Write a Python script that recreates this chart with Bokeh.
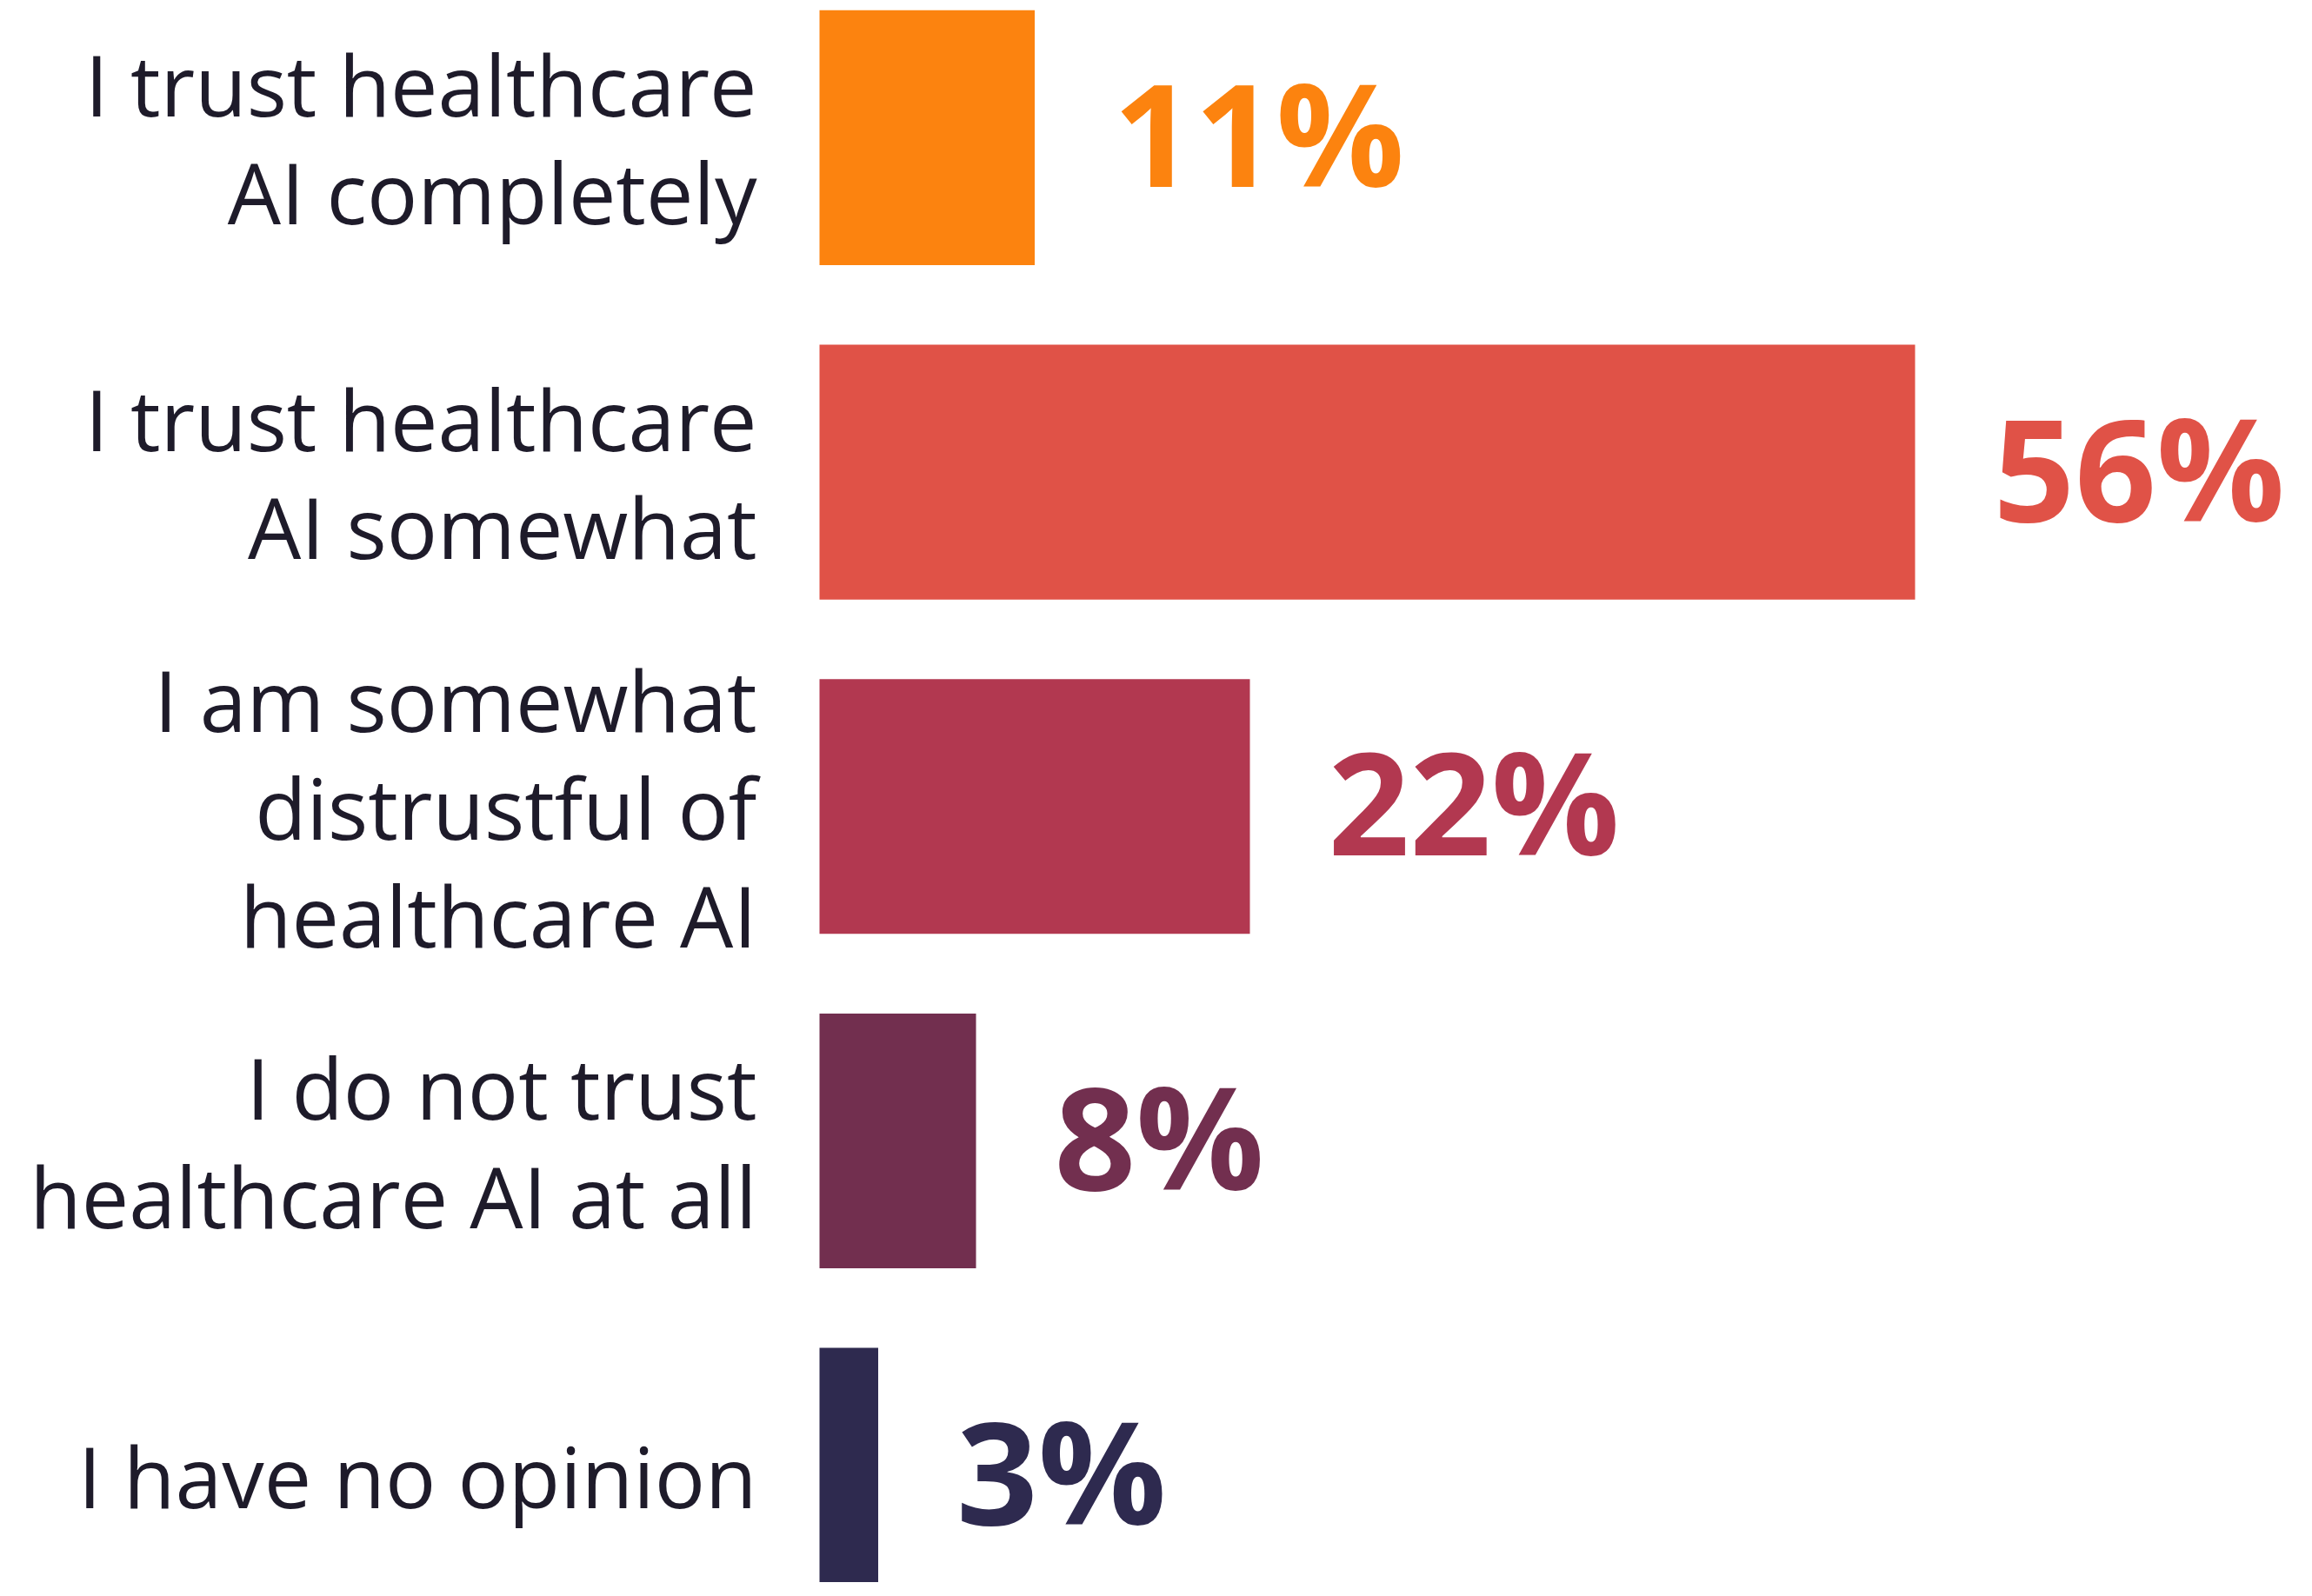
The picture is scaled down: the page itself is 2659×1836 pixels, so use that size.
from bokeh.plotting import figure
from bokeh.models import ColumnDataSource, Range1d
from bokeh.core.properties import value
from bokeh.embed import file_html
from bokeh.resources import INLINE

categories = [
    "I trust healthcare\nAI completely",
    "I trust healthcare\nAI somewhat",
    "I am somewhat\ndistrustful of\nhealthcare AI",
    "I do not trust\nhealthcare AI at all",
    "I have no opinion",
]
percentages = [11, 56, 22, 8, 3]
value_labels = ["11%", "56%", "22%", "8%", "3%"]
colors = ["#FC830F", "#E05247", "#B23850", "#722F4F", "#2E2A4F"]

positions = list(range(len(categories)))
source = ColumnDataSource(dict(
    cat=categories,
    pos=positions,
    pct=percentages,
    lbl=value_labels,
    color=colors,
    zero=[0] * len(categories),
))

W, H = 2643, 1820
p = figure(
    width=W, height=H,
    x_range=Range1d(-41.867, 75.6),
    y_range=Range1d(4.3206, -0.4104),
    output_backend="svg",
    toolbar_location=None,
    min_border=0,
    background_fill_color="white",
    border_fill_color="white",
    outline_line_color=None,
)
p.axis.visible = False
p.grid.visible = False

p.hbar(y="pos", left=0, right="pct", height=0.762, fill_color="color",
       line_color=None, source=source)

p.text(x="pct", y="pos", text="lbl", source=source,
       text_color="color", text_font=value("Open Sans"),
       text_font_style="bold", text_font_size="164px",
       text_align="left", text_baseline="middle", x_offset=90, y_offset=-7)

p.text(x="zero", y="pos", text="cat", source=source,
       text_color="#1E1B2A", text_font=value("Open Sans"),
       text_font_size="97px", text_line_height=0.94,
       text_align="right", text_baseline="middle", x_offset=-72)

open("out.html", "w").write(file_html(p, INLINE))
